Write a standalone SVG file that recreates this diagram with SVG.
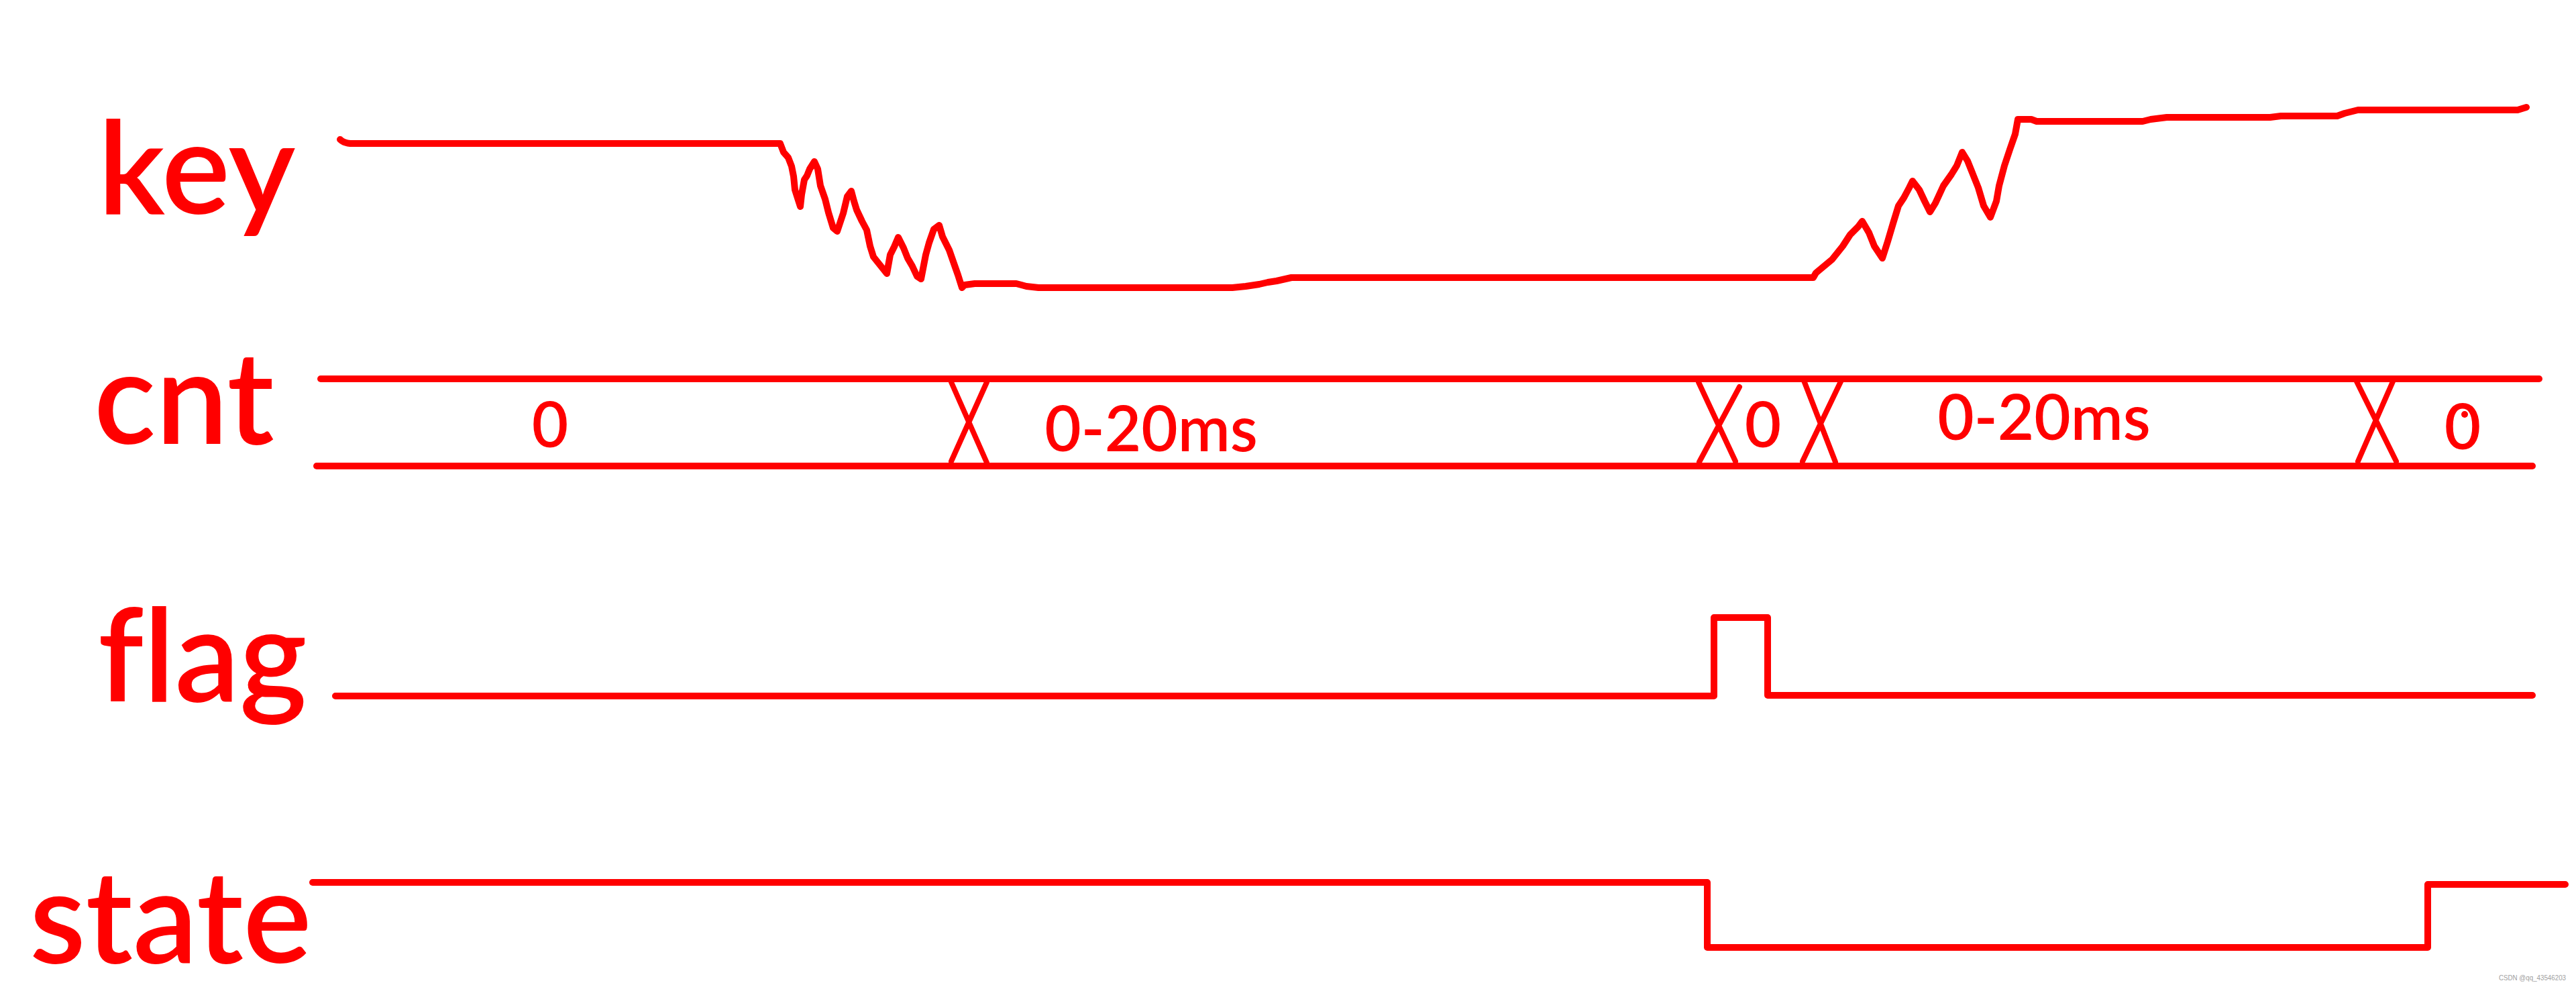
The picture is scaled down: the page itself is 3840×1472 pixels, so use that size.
<svg xmlns="http://www.w3.org/2000/svg" width="3840" height="1472" viewBox="0 0 3840 1472">
<style>
.bg{fill:#ffffff}
.lbl{font-family:Lato,"Open Sans","Liberation Sans",sans-serif;font-weight:600;font-size:192px;fill:#ff0000;font-variant-ligatures:none;font-feature-settings:"liga" 0}
.val{font-family:Lato,"Open Sans","Liberation Sans",sans-serif;font-weight:600;font-size:94px;fill:#ff0000;text-anchor:middle}
.wave{fill:none;stroke:#ff0000;stroke-width:10;stroke-linecap:round;stroke-linejoin:round}
.x{fill:none;stroke:#ff0000;stroke-width:8;stroke-linecap:round}
.wm{font-family:"Liberation Sans",Arial,sans-serif;font-size:11px;fill:#a0a0a0}
</style>
<rect class="bg" x="0" y="0" width="3840" height="1472"/>

<g id="key">
<text class="lbl" x="146" y="319">key</text>
<path class="wave" d="M507,208 Q512,213 522,214 L532,214 L1163,214 L1168,227 L1175,235 L1180,248 L1183,263 L1185,283 L1193,308 L1195,290 L1199,268 L1203,262 L1207,252 L1214,241 L1219,252 L1223,277 L1230,297 L1235,317 L1242,340 L1248,345 L1257,318 L1263,293 L1269,285 L1273,300 L1277,313 L1285,330 L1292,343 L1297,367 L1302,383 L1310,393 L1322,408 L1327,380 L1333,368 L1339,354 L1347,370 L1353,385 L1360,397 L1367,412 L1373,416 L1380,380 L1385,362 L1392,342 L1400,336 L1405,353 L1415,373 L1422,393 L1428,410 L1434,429 L1438,425 L1453,423 L1515,423 L1530,427 L1548,429 L1837,429 L1857,427 L1877,424 L1890,421 L1903,419 L1925,414 L2703,414 L2707,407 L2719,397 L2731,387 L2747,367 L2758,350 L2770,338 L2776,330 L2786,347 L2794,367 L2806,385 L2814,360 L2822,333 L2830,307 L2838,295 L2846,280 L2851,270 L2861,283 L2869,300 L2877,316 L2885,303 L2897,277 L2909,260 L2917,247 L2925,227 L2933,240 L2941,260 L2949,280 L2957,307 L2967,324 L2976,300 L2980,277 L2988,247 L2996,223 L3004,200 L3008,178 L3028,178 L3036,181 L3194,181 L3206,178 L3230,175 L3384,175 L3400,173 L3484,173 L3495,169 L3515,164 L3753,164 L3766,160"/>
</g>

<g id="cnt">
<text class="lbl" x="140" y="662">cnt</text>
<path class="wave" d="M478,565 L3785,565"/>
<path class="wave" d="M472,695 L3775,695"/>
<text class="val" x="820" y="667">0</text>
<text class="val" x="1716" y="673">0-20ms</text>
<text class="val" x="2628" y="667">0</text>
<text class="val" x="3047" y="656">0-20ms</text>
<text class="val" x="3671" y="670">0</text>
<circle cx="3674" cy="618" r="5" fill="#ff0000"/>
</g>

<g id="flag">
<text class="lbl" x="146" y="1046">flag</text>
<path class="wave" d="M500,1038 L2555,1038 L2555,921 L2635,921 L2635,1037 L3775,1037"/>
</g>

<g id="state">
<text class="lbl" x="44" y="1436">state</text>
<path class="wave" d="M466,1316 L2545,1316 L2545,1413 L3619,1413 L3619,1319 L3824,1319"/>
</g>

<g id="connectors">
<path class="x" d="M1418,570 L1471,690 M1471,570 L1418,688"/>
<path class="x" d="M2532,570 L2587,688 M2593,577 L2533,689"/>
<path class="x" d="M2688,565 L2736,689 M2745,567 L2687,688"/>
<path class="x" d="M3513,569 L3572,688 M3567,569 L3515,688"/>
</g>

<text class="wm" x="3725" y="1462" textLength="100" lengthAdjust="spacingAndGlyphs">CSDN @qq_43546203</text>
</svg>
